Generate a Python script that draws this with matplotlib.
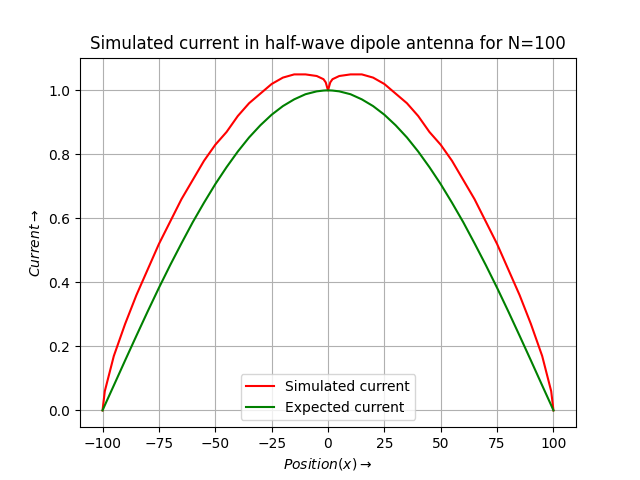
import matplotlib
matplotlib.use("Agg")
import matplotlib.pyplot as plt
import numpy as np

# values, left half (x <= 0); curves are symmetric
x_half = [-100, -99, -95, -90, -85, -80, -75, -70, -65, -60, -55, -50, -45, -40,
          -35, -30, -25, -20, -15, -10, -5, -2, -1, 0]
sim_half = [0.0, 0.06, 0.17, 0.27, 0.36, 0.44, 0.52, 0.59, 0.66, 0.72, 0.78, 0.83,
            0.87, 0.92, 0.96, 0.99, 1.02, 1.04, 1.05, 1.05, 1.045, 1.035, 1.025, 1.0]
exp_half = [0.0, 0.016, 0.078, 0.156, 0.233, 0.309, 0.383, 0.454, 0.522, 0.588,
            0.649, 0.707, 0.760, 0.809, 0.853, 0.891, 0.924, 0.951, 0.972, 0.988,
            0.997, 0.9995, 0.9999, 1.0]

x = np.array(x_half + [-v for v in x_half[-2::-1]])
sim = np.array(sim_half + sim_half[-2::-1])
expected = np.array(exp_half + exp_half[-2::-1])

fig, ax = plt.subplots(figsize=(6.4, 4.8), dpi=100)
ax.plot(x, sim, color="red", label="Simulated current")
ax.plot(x, expected, color="green", label="Expected current")
ax.set_title("Simulated current in half-wave dipole antenna for N=100")
ax.set_xlabel(r"$Position(x)\rightarrow$")
ax.set_ylabel(r"$Current\rightarrow$")
ax.grid(True)
ax.legend(loc="lower center")
fig.savefig("out.png")
